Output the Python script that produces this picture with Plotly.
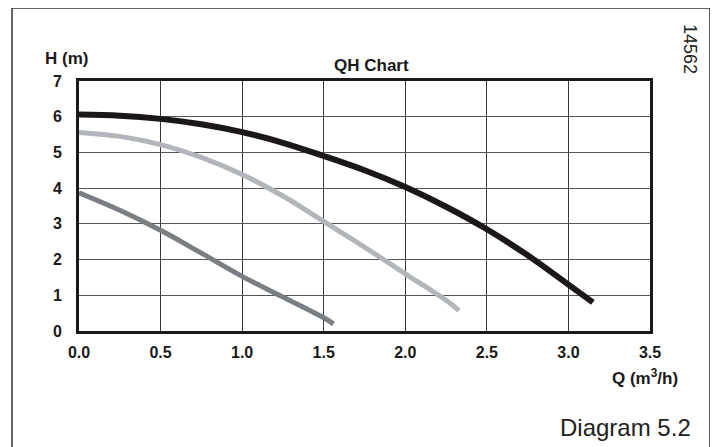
import plotly.graph_objects as go

# Q (m3/h) and H (m)
q_high = [0.0, 0.25, 0.5, 0.75, 1.0, 1.25, 1.5, 1.75, 2.0, 2.25, 2.5, 2.75, 3.0, 3.15]
h_high = [6.06, 6.03, 5.94, 5.79, 5.57, 5.27, 4.9, 4.5, 4.03, 3.48, 2.85, 2.12, 1.3, 0.8]

q_mid = [0.0, 0.25, 0.5, 0.75, 1.0, 1.25, 1.5, 1.75, 2.0, 2.25, 2.33]
h_mid = [5.56, 5.45, 5.22, 4.86, 4.38, 3.78, 3.07, 2.35, 1.6, 0.86, 0.57]

q_low = [0.0, 0.25, 0.5, 0.75, 1.0, 1.25, 1.5, 1.56]
h_low = [3.87, 3.38, 2.82, 2.18, 1.53, 0.95, 0.37, 0.2]

x_ticks = [0.0, 0.5, 1.0, 1.5, 2.0, 2.5, 3.0, 3.5]
x_labels = ["0.0", "0.5", "1.0", "1.5", "2.0", "2.5", "3.0", "3.5"]
y_ticks = [0, 1, 2, 3, 4, 5, 6, 7]

fig = go.Figure()
fig.add_trace(go.Scatter(x=q_low, y=h_low, mode="lines",
                         line=dict(color="#7b7f84", width=5, shape="spline", smoothing=1.0),
                         showlegend=False, hoverinfo="skip"))
fig.add_trace(go.Scatter(x=q_mid, y=h_mid, mode="lines",
                         line=dict(color="#b2b5ba", width=5, shape="spline", smoothing=1.0),
                         showlegend=False, hoverinfo="skip"))
fig.add_trace(go.Scatter(x=q_high, y=h_high, mode="lines",
                         line=dict(color="#1c181a", width=6, shape="spline", smoothing=1.0),
                         showlegend=False, hoverinfo="skip"))

tick_font = dict(family="Liberation Sans, Arial, sans-serif", size=16,
                 color="#1a1a1a", weight="bold")

fig.update_xaxes(range=[0, 3.5], tickvals=x_ticks, ticktext=x_labels,
                 showgrid=True, gridcolor="#3a3a3a", gridwidth=1,
                 showline=True, linecolor="#1a1a1a", linewidth=3, mirror=True,
                 zeroline=False, ticks="", tickfont=tick_font, ticklabelstandoff=5)
fig.update_yaxes(range=[0, 7], tickvals=y_ticks,
                 showgrid=True, gridcolor="#555555", gridwidth=1,
                 showline=True, linecolor="#1a1a1a", linewidth=3, mirror=True,
                 zeroline=False, ticks="", tickfont=tick_font, ticklabelstandoff=11)

fig.update_layout(
    width=710, height=439,
    margin=dict(l=71, r=68, t=73, b=116),
    paper_bgcolor="white", plot_bgcolor="white",
    font=dict(family="Liberation Sans, Arial, sans-serif", color="#1a1a1a"),
    shapes=[dict(type="rect", xref="paper", yref="paper",
                 x0=-0.1173, x1=1.105, y0=-0.6, y1=1.292,
                 line=dict(color="#333333", width=1.5), layer="below")],
    annotations=[
        dict(text="<b>H (m)</b>", xref="paper", yref="paper", x=-0.063, y=1.088,
             xanchor="left", yanchor="middle", showarrow=False,
             font=dict(size=17)),
        dict(text="<b>QH Chart</b>", xref="paper", yref="paper", x=0.513, y=1.06,
             xanchor="center", yanchor="middle", showarrow=False,
             font=dict(size=17)),
        dict(text="<b>Q (m<sup>3</sup>/h)</b>", xref="paper", yref="paper", x=1.053, y=-0.184,
             xanchor="right", yanchor="middle", showarrow=False,
             font=dict(size=17)),
        dict(text="Diagram 5.2", xref="paper", yref="paper", x=1.076, y=-0.385,
             xanchor="right", yanchor="middle", showarrow=False,
             font=dict(size=24, color="#222222")),
        dict(text="14562", xref="paper", yref="paper", x=1.07, y=1.128,
             xanchor="center", yanchor="middle", showarrow=False, textangle=90,
             font=dict(size=18, color="#222222")),
    ],
)

fig.write_html("out.html")
